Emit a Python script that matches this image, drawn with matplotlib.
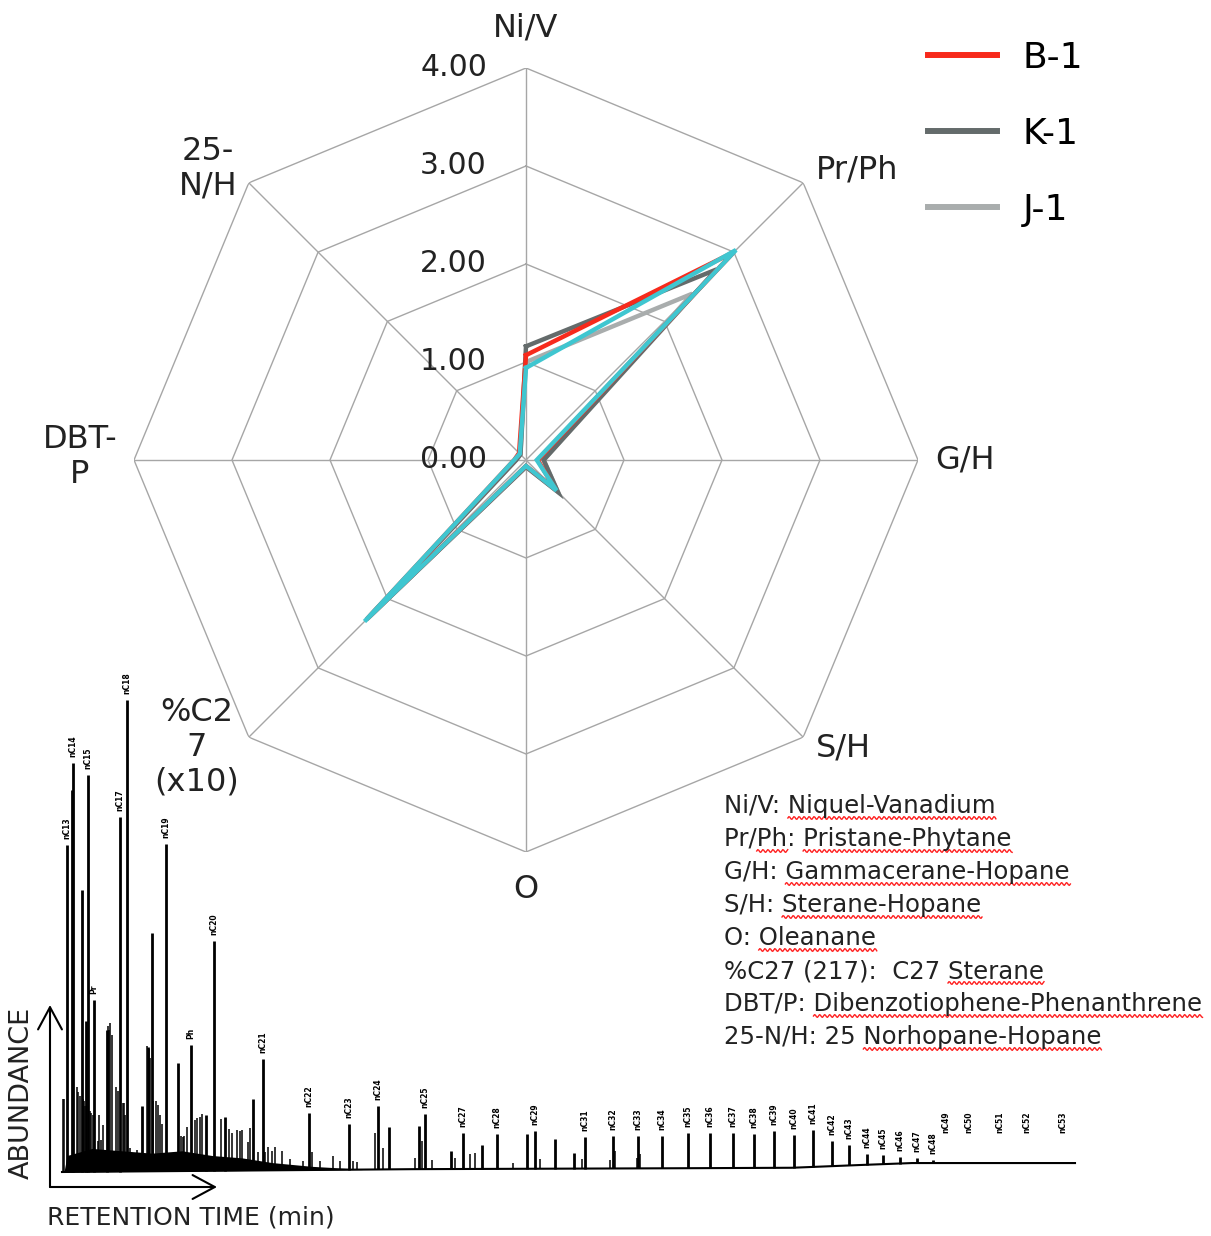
import numpy as np
import matplotlib
matplotlib.use("Agg")
from matplotlib import pyplot as plt
from matplotlib.lines import Line2D
from matplotlib.transforms import offset_copy, IdentityTransform

# ---- radar data -------------------------------------------------------
categories = ["Ni/V", "Pr/Ph", "G/H", "S/H", "O", "%C2\n7\n(x10)", "DBT-\nP", "25-\nN/H"]
b1 = [1.07, 3.00, 0.12, 0.42, 0.06, 2.30, 0.12, 0.10]
k1 = [1.16, 2.75, 0.18, 0.46, 0.07, 2.25, 0.10, 0.08]
j1 = [1.00, 2.40, 0.18, 0.46, 0.07, 2.28, 0.10, 0.08]
extra = [0.94, 3.03, 0.11, 0.44, 0.06, 2.33, 0.12, 0.09]
ring_levels = [1.0, 2.0, 3.0, 4.0]
tick_levels = [0.0, 1.0, 2.0, 3.0, 4.0]

# ---- chromatogram data (retention time, relative abundance) -----------
major_rt = [0.5, 1.0, 1.1, 2.0, 2.4, 2.6, 3.2, 4.5, 5.8, 6.5, 8.0, 8.6, 9.0, 10.4,
            11.6, 12.9, 14.4, 15.2, 16.3, 19.1, 20.1, 24.7, 28.7, 31.6, 32.7, 35.7,
            36.3, 38.9, 40.1, 42.0, 43.5, 46.5, 47.3, 49.3, 51.2, 52.3, 55.1, 57.6,
            60.0, 62.6, 64.8, 67.1, 69.2, 71.2, 73.2, 75.1, 77.0, 78.7, 80.5, 82.1,
            83.8, 85.5, 87.1]
major_h = [69.4, 81.1, 86.8, 59.8, 32.1, 84.3, 36.4, 30.0, 75.3, 100.0, 13.8, 26.4,
           50.6, 69.4, 23.0, 26.8, 11.9, 48.7, 11.5, 15.1, 23.6, 12.1, 9.6, 13.4, 8.9,
           9.1, 11.7, 3.8, 7.7, 5.1, 7.4, 7.4, 8.1, 6.4, 3.4, 6.8, 6.8, 6.8, 6.8, 7.4,
           7.4, 7.4, 7.2, 7.9, 7.0, 7.9, 5.3, 4.3, 2.3, 2.0, 1.3, 1.1, 0.6]
minor_rt = [0.1, 0.2, 1.5, 1.6, 1.8, 2.1, 2.2, 2.3, 2.8, 2.9, 3.1, 3.6, 3.7, 3.9, 4.1,
            4.6, 4.7, 4.8, 5.0, 5.4, 5.6, 6.1, 6.2, 6.3, 6.8, 7.2, 7.5, 7.7, 8.5, 8.7,
            8.8, 9.1, 9.3, 9.4, 9.6, 9.8, 10.0, 11.0, 11.4, 11.9, 12.1, 12.2, 12.5,
            13.3, 13.5, 13.8, 14.0, 14.8, 15.8, 15.9, 16.7, 17.0, 17.5, 17.8, 18.0,
            18.6, 18.8, 19.6, 20.3, 20.6, 21.0, 21.3, 22.0, 22.8, 24.1, 25.0, 25.8,
            27.1, 27.8, 29.1, 29.5, 31.3, 32.1, 35.3, 36.0, 37.0, 39.3, 40.8, 41.3,
            45.1, 47.8, 52.0, 54.8, 55.3, 57.5, 57.8]
minor_h = [15.6, 15.5, 18.0, 17.0, 16.0, 15.5, 15.0, 14.0, 13.0, 12.5, 12.0, 6.6,
           12.0, 6.7, 10.0, 31.0, 30.0, 31.5, 29.0, 18.0, 17.0, 14.5, 14.5, 12.0,
           5.0, 4.0, 4.5, 3.0, 26.6, 26.0, 24.0, 15.0, 2.3, 15.0, 14.0, 12.0, 10.0,
           2.3, 3.0, 7.4, 7.2, 7.4, 9.4, 10.9, 11.3, 11.5, 12.0, 2.5, 2.3, 11.0, 8.9,
           8.0, 8.7, 8.5, 8.7, 6.0, 9.0, 4.0, 4.0, 5.0, 4.0, 5.0, 4.0, 2.3, 1.9, 3.8,
           1.9, 3.0, 1.9, 1.9, 1.7, 7.7, 4.5, 2.3, 6.0, 2.0, 2.3, 3.2, 3.4, 1.3, 2.1,
           2.0, 1.7, 3.8, 2.1, 3.0]
hump_rt = [0.2, 0.5, 3.0, 6.0, 9.0, 12.0, 15.0, 18.0, 21.0, 25.0, 30.0]
hump_h = [0.0, 3.5, 5.0, 4.5, 4.0, 4.5, 3.5, 3.0, 2.0, 1.2, 0.6]
base_rt = [0.0, 35.0, 62.0, 73.0, 80.0, 85.0, 101.3]
base_h = [0.0, 0.6, 0.8, 0.9, 1.5, 1.9, 1.9]
peak_label_rt = [0.5, 1.1, 2.6, 3.2, 5.8, 6.5, 10.4, 12.9, 15.2, 20.1, 24.7, 28.7,
                 31.6, 36.3, 40.1, 43.5, 47.3, 52.3, 55.1, 57.6, 60.0,
                 62.6, 64.8, 67.1, 69.2, 71.2, 73.2, 75.1, 77.0, 78.7, 80.5, 82.1,
                 83.8, 85.5, 87.1, 88.4, 90.7, 93.8, 96.5, 100.1]
peak_labels = ["nC13", "nC14", "nC15", "Pr", "nC17", "nC18", "nC19", "Ph", "nC20",
               "nC21", "nC22", "nC23", "nC24", "nC25", "nC27", "nC28",
               "nC29", "nC31", "nC32", "nC33", "nC34", "nC35", "nC36",
               "nC37", "nC38", "nC39", "nC40", "nC41", "nC42", "nC43", "nC44",
               "nC45", "nC46", "nC47", "nC48", "nC49", "nC50", "nC51", "nC52", "nC53"]

# ---- glossary ---------------------------------------------------------
glossary = [
    ("Ni/V: ", "Niquel-Vanadium"),
    ("Pr/Ph: ", "Pristane-Phytane"),
    ("G/H: ", "Gammacerane-Hopane"),
    ("S/H: ", "Sterane-Hopane"),
    ("O: ", "Oleanane"),
    ("%C27 (217):  C27 ", "Sterane"),
    ("DBT/P: ", "Dibenzotiophene-Phenanthrene"),
    ("25-N/H: 25 ", "Norhopane-Hopane"),
]

RED = "#f72a1c"
DARK = "#646b6b"
LIGHT = "#a9adad"
CYAN = "#3fc6d0"
GRID = "#a6a6a6"
INK = "#222222"

W, H = 1211, 1236
fig = plt.figure(figsize=(W / 100, H / 100), dpi=100)
plt.rcParams["font.family"] = ["DejaVu Sans"]

# radar: centre (526, 460), radius 392 px
cx, cy, R = 526, 460, 392
ax = fig.add_axes([(cx - R) / W, (H - cy - R) / H, 2 * R / W, 2 * R / H], polar=True)
ax.set_theta_zero_location("N")
ax.set_theta_direction(-1)
ax.set_ylim(0, 4)
ax.grid(False)
ax.spines["polar"].set_visible(False)
ax.set_xticks([])
ax.set_yticks([])
ax.patch.set_alpha(0)

n = len(categories)
theta = np.arange(n) * 2 * np.pi / n
theta_c = np.append(theta, theta[0])

for lvl in ring_levels:
    ax.plot(theta_c, [lvl] * (n + 1), color=GRID, lw=1.0, zorder=1)
for t in theta:
    ax.plot([t, t], [0, 4], color=GRID, lw=1.0, zorder=1)

tick_tr = offset_copy(ax.transData, fig=fig, x=-39, y=0, units="dots")
for lvl in tick_levels:
    ax.text(0, lvl, f"{lvl:.2f}", transform=tick_tr, ha="right", va="center",
            fontsize=21.5, color=INK)

# category labels sit at a pixel offset from the outer vertex
label_offsets = [(0, 40), (54, 13), (47, 0), (40, -11), (0, -38), (-52, -10),
                 (-54, 3), (-41, 14)]
for t, lab, (dx, dy) in zip(theta, categories, label_offsets):
    tr = offset_copy(ax.transData, fig=fig, x=dx, y=dy, units="dots")
    ax.text(t, 4, lab, transform=tr, ha="center", va="center", fontsize=23,
            color=INK, multialignment="center", linespacing=1.15)

lw = 3.2
ax.plot(theta_c, j1 + j1[:1], color=LIGHT, lw=lw, zorder=3, solid_joinstyle="miter")
ax.plot(theta_c, k1 + k1[:1], color=DARK, lw=lw, zorder=4, solid_joinstyle="miter")
ax.plot(theta_c, b1 + b1[:1], color=RED, lw=lw, zorder=5, solid_joinstyle="miter")
ax.plot(theta_c, extra + extra[:1], color=CYAN, lw=lw, zorder=6, solid_joinstyle="miter")

handles = [Line2D([], [], color=c, lw=4.3) for c in (RED, DARK, LIGHT)]
fig.legend(handles, ["B-1", "K-1", "J-1"], loc="upper left",
           bbox_to_anchor=(928 / W, 1 - 41 / H), frameon=False, fontsize=26,
           handlelength=1.92, handletextpad=0.7, labelspacing=1.16,
           borderpad=0, borderaxespad=0)

# chromatogram: baseline y=1172 px, tallest peak y=701 px, x 62..1075 px
cax = fig.add_axes([62 / W, (H - 1172) / H, 1013 / W, 471 / H])
cax.set_xlim(0, 101.3)
cax.set_ylim(0, 100)
cax.axis("off")

base_major = np.interp(major_rt, base_rt, base_h)
base_minor = np.interp(minor_rt, base_rt, base_h)
cax.plot(base_rt, base_h, color="black", lw=1.5, clip_on=False)
hump_base = np.interp(hump_rt, base_rt, base_h)
cax.fill_between(hump_rt, hump_base, hump_h, color="black", lw=0)
cax.vlines(minor_rt, base_minor, base_minor + np.array(minor_h), color="black", lw=1.1)
cax.vlines(major_rt, base_major, base_major + np.array(major_h), color="black", lw=2.0,
           clip_on=False)

top_lookup = dict(zip(major_rt, base_major + np.array(major_h)))
lab_tr = offset_copy(cax.transData, fig=fig, x=0, y=6, units="dots")
for rt, lab in zip(peak_label_rt, peak_labels):
    top = top_lookup.get(rt, 7.0)
    cax.text(rt, top, lab, transform=lab_tr, rotation=90, ha="center", va="bottom",
             fontsize=5.5, fontweight="bold", color="black", clip_on=False)

arrow = dict(arrowstyle="->,head_length=16,head_width=8.6", lw=1.5, color="black",
             shrinkA=0, shrinkB=0, mutation_scale=1)
fig.add_artist(plt.Annotation("", xy=(50, H - 1005), xytext=(50, H - 1187),
                              xycoords="figure pixels", textcoords="figure pixels",
                              arrowprops=arrow))
fig.add_artist(plt.Annotation("", xy=(217, H - 1187), xytext=(50, H - 1187),
                              xycoords="figure pixels", textcoords="figure pixels",
                              arrowprops=arrow))
fig.text(22 / W, 1 - 1093 / H, "ABUNDANCE", rotation=90, ha="center", va="center",
         fontsize=19.5, color=INK)
fig.text(47 / W, 1 - 1218 / H, "RETENTION TIME (min)", ha="left", va="center",
         fontsize=18, color=INK)

# glossary with spell-check squiggles under the flagged words
renderer = fig.canvas.get_renderer()
gx, gy0, gstep, gsize = 724, 813, 33, 17.6


def text_width(s):
    tmp = fig.text(0, 0, s, fontsize=gsize)
    w = tmp.get_window_extent(renderer).width
    tmp.remove()
    return w


def squiggle(x0, x1, y):
    xs = np.arange(x0, x1 + 1, 1.0)
    ys = y - 5 + 1.4 * np.sin(2 * np.pi * (xs - x0) / 5.0)
    fig.add_artist(Line2D(xs, ys, color="#ff1f1f", lw=1.0, transform=IdentityTransform()))


for i, (head, word) in enumerate(glossary):
    y = H - (gy0 + i * gstep)
    txt = fig.text(gx / W, y / H, head + word, ha="left", va="baseline",
                   fontsize=gsize, color=INK)
    x_end = txt.get_window_extent(renderer).x1
    squiggle(x_end - text_width(word), x_end, y)
    if head.startswith("Pr/Ph"):
        # the "Ph" before the colon is flagged too
        a1 = gx + text_width("Pr/Ph")
        squiggle(a1 - text_width("Ph"), a1, y)

fig.savefig("out.png", dpi=100, facecolor="white")
